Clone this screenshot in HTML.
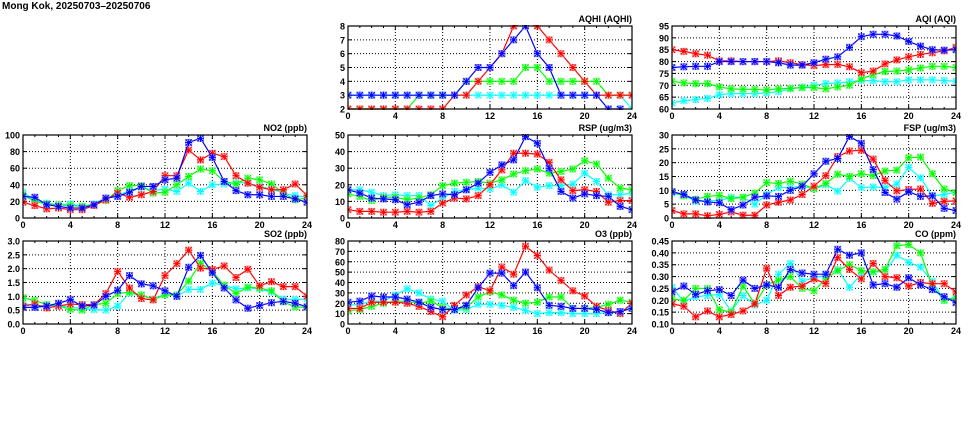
<!DOCTYPE html>
<html><head><meta charset="utf-8"><style>
html,body{margin:0;padding:0;background:#fff;}
svg{display:block;font-family:"Liberation Sans",sans-serif;font-weight:bold;}
</style></head><body>
<svg id="s" width="975" height="447" viewBox="0 0 975 447" xmlns="http://www.w3.org/2000/svg">
<text x="2" y="9" font-size="10">Mong Kok, 20250703–20250706</text>
</svg>
<script>
const S=document.getElementById('s'),NS='http://www.w3.org/2000/svg';
function el(t,a,p){const e=document.createElementNS(NS,t);for(const k in a)e.setAttribute(k,a[k]);(p||S).appendChild(e);return e;}
const cols=[23,348,672],rows=[26,135,241],W=284,H=83;
const C={b:'#0000ff',r:'#ff0000',g:'#00ff00',c:'#00ffff'};
const L={b:'#8080ff',r:'#ff9090',g:'#90ff90',c:'#a0ffff'};
const P=[
{c:1,r:0,t:'AQHI (AQHI)',y0:2,y1:8,st:1,dec:0,d:{
c:[3,3,3,3,3,3,3,3,3,3,3,3,3,3,3,3,3,3,3,3,3,3,3,3,2],
g:[2,2,2,2,2,2,3,3,3,3,4,4,4,4,4,5,5,4,4,4,4,4,3,3,3],
r:[2,2,2,2,2,2,2,2,2,3,3,4,5,6,8,8.3,8,7,6,5,4,3,3,3,3],
b:[3,3,3,3,3,3,3,3,3,3,4,5,5,6,7,8,6,5,3,3,3,3,2,2,1.5]}},
{c:2,r:0,t:'AQI (AQI)',y0:60,y1:95,st:5,dec:0,d:{
c:[62.5,63.5,64,64.5,66,66.5,66.5,66.5,66.8,67.3,68.5,69.3,70,70.7,71,71.5,72,72,71.5,71.5,72.3,72.3,72.3,72,71.7],
g:[71.7,71,70.7,70.7,69.3,68.5,68.3,68.3,68,68.5,68.7,69,69,68.5,69.3,70,72.7,74.5,75.8,76,76.5,77.3,78,78,77.5],
r:[85,84.3,83.3,82.7,80.3,80.3,80,80,80,80.3,79.5,78.7,78.3,78.7,78.8,77.8,75.3,76,79,80.7,82,83,83.7,84.5,86],
b:[77.5,77.8,78,78,80,80,80,80,80,79.5,78.5,78.5,79.5,81,82,86,90.5,91.5,91.5,90.8,88.5,86.5,85,84.8,85]}},
{c:0,r:1,t:'NO2 (ppb)',y0:0,y1:100,st:20,dec:0,d:{
c:[31,21,18,16,17,14,17,24,27,33,37,33,35,32,42,32,40,41,43,42,38,35,30,27,25],
g:[28,20,17,16,15,14,16,21,33,39,39,30,31,40,50,59,57,44,41,48,46,41,30,22,24],
r:[19,15,11,12,10,10,15,22,30,25,28,32,51,51,82,70,78,74,51,42,37,34,34,41,27],
b:[26,25,16,14,12,12,16,24,26,31,38,38,46,48,91,96,73,44,33,28,28,26,26,23,19]}},
{c:1,r:1,t:'RSP (ug/m3)',y0:0,y1:50,st:10,dec:0,d:{
c:[17,17,15.5,13.5,14,13.5,13.5,7.5,12,16,17,18,17.5,20,15.5,22.5,18.5,19.5,19.5,20.5,27,22,14,14,15],
g:[14.5,13,10.5,12.5,12.5,11,12,14,19.5,21,21.5,22,21,23,26.5,28.5,29.5,27,28,29.5,34.5,32.5,24,18,17],
r:[5,4,4,3.5,3.5,4,3.5,4,9,12,11.5,13.5,20,29,39,39,38.5,33.5,23,16.5,17,16,9.5,10.5,10.5],
b:[17,15,12,11.5,11,8,9.5,13.5,14.5,14,17,21,27.5,32,35,49,45,30,16,12,14.5,13.5,13,7,5]}},
{c:2,r:1,t:'FSP (ug/m3)',y0:0,y1:30,st:5,dec:0,d:{
c:[9,8.2,6,6.3,6.3,7.5,7.5,5,8.5,11,11,11.5,10.5,12,9.7,14.3,11,11.2,11,12.3,18.3,14.5,8,8.5,9.3],
g:[9.5,8,6.8,7.8,8.2,7,7.5,9,12.8,12.5,13.3,12.3,10.5,12.5,15.8,15,16,15.3,17,17.3,21.8,22,16,10.5,9.2],
r:[2.7,1.5,1.5,0.8,1.3,2.2,1,1,4.7,5.7,6.5,8.5,11.5,15.3,22.2,24.2,24.5,21.3,13.5,9.8,10.3,10.5,5.3,6,6.2],
b:[9.5,8.5,6.5,5.8,5.5,3,4.7,7.5,8,7.8,10,11.5,16,20.5,21.5,29.5,27,17.5,9.2,6.8,9.5,7.8,8,3.5,2.7]}},
{c:0,r:2,t:'SO2 (ppb)',y0:0,y1:3,st:0.5,dec:1,d:{
c:[.75,.65,.68,.65,.62,.55,.52,.5,.65,1.12,1.05,.9,1.08,1.0,1.25,1.25,1.48,1.4,1.27,1.3,1.27,1.15,.9,.88,.9],
g:[.95,.85,.7,.65,.53,.5,.7,.75,1.1,1.15,1.05,.88,1.05,1.05,1.55,2.2,1.9,1.4,1.1,1.33,1.3,1.2,.8,.62,.6],
r:[.65,.72,.58,.65,.72,.7,.7,1.1,1.9,1.3,.92,.87,1.75,2.18,2.67,2.02,1.97,2.1,1.68,1.98,1.38,1.53,1.35,1.35,1.0],
b:[.6,.6,.65,.75,.88,.65,.68,1.0,1.22,1.75,1.45,1.38,1.2,1.0,2.05,2.48,1.85,1.3,.87,.57,.67,.77,.82,.75,.62]}},
{c:1,r:2,t:'O3 (ppb)',y0:0,y1:80,st:10,dec:0,d:{
c:[18,19,22,22,28,34,30,24,22,13,14,19,19,18,16,13,10,11,11,10,10,10,11,11,17],
g:[13,14,17,20,22,22,20,22,16,14,16,26,31,28,23,20,21,26,26,15,15,16,19,23,21],
r:[15,15,21,21,21,20,17,12,7,18,28,36,32,55,48,75,66,52,42,32,27,17,13,10,20],
b:[21,22,27,26,26,24,21,16,14,14,18,35,49,49,37,50,35,18,17,15,15,14,11,12,15]}},
{c:2,r:2,t:'CO (ppm)',y0:0.10,y1:0.45,st:0.05,dec:2,d:{
c:[.255,.195,.215,.22,.225,.155,.22,.18,.20,.31,.355,.28,.295,.305,.33,.255,.31,.32,.32,.39,.36,.34,.28,.20,.215],
g:[.205,.20,.25,.25,.16,.15,.26,.185,.265,.285,.30,.25,.24,.29,.325,.35,.325,.32,.33,.43,.435,.40,.26,.20,.21],
r:[.185,.175,.13,.155,.13,.14,.155,.185,.335,.22,.255,.26,.29,.27,.38,.33,.29,.355,.30,.295,.26,.275,.27,.27,.235],
b:[.235,.26,.225,.24,.245,.22,.285,.25,.265,.255,.33,.315,.31,.31,.415,.39,.40,.265,.27,.255,.295,.265,.245,.215,.19]}}
];
P.forEach((p,i)=>{
 const X0=cols[p.c],Y0=rows[p.r];
 const fx=h=>X0+h*W/24, fy=v=>Y0+H-(v-p.y0)/(p.y1-p.y0)*H;
 const g=el('g',{});
 el('text',{x:X0+W,y:Y0-4,'font-size':9,'text-anchor':'end'},g).textContent=p.t;
 const n=Math.round((p.y1-p.y0)/p.st);
 for(let k=0;k<=n;k++){const v=p.y0+k*p.st,y=fy(v);
  if(k>0&&k<n)el('line',{x1:X0,x2:X0+W,y1:y,y2:y,stroke:'#000','stroke-width':1,'stroke-dasharray':'1,2'},g);
  el('line',{x1:X0,x2:X0+4,y1:y,y2:y,stroke:'#000'},g);el('line',{x1:X0+W-4,x2:X0+W,y1:y,y2:y,stroke:'#000'},g);
  el('text',{x:X0-3,y:y+3.5,'font-size':9,'text-anchor':'end'},g).textContent=v.toFixed(p.dec);}
 for(let h=0;h<=24;h++){const x=fx(h),m=h%4==0;
  if(m&&h>0&&h<24)el('line',{x1:x,x2:x,y1:Y0,y2:Y0+H,stroke:'#000','stroke-dasharray':'1,2'},g);
  const t=m?4:2;
  el('line',{x1:x,x2:x,y1:Y0+H,y2:Y0+H-t,stroke:'#000'},g);el('line',{x1:x,x2:x,y1:Y0,y2:Y0+t,stroke:'#000'},g);
  if(m)el('text',{x:x,y:Y0+H+10,'font-size':9,'text-anchor':'middle'},g).textContent=h;}
 const cp=el('clipPath',{id:'c'+i},g);el('rect',{x:X0,y:Y0-1,width:W,height:H+2},cp);
 const sg=el('g',{'clip-path':'url(#c'+i+')'},g);
 ['c','g','r','b'].forEach(k=>{
  const pts=p.d[k].map((v,h)=>[fx(h),fy(v)]);
  el('polyline',{points:pts.map(q=>q.join(',')).join(' '),fill:'none',stroke:C[k],'stroke-width':1.2},sg);
  pts.forEach(([x,y])=>{
   el('rect',{x:x-3,y:y-3,width:6,height:6,fill:'none',stroke:L[k],'stroke-width':1},sg);
   el('path',{d:`M${x-3} ${y-3}L${x+3} ${y+3}M${x-3} ${y+3}L${x+3} ${y-3}M${x-3.5} ${y}H${x+3.5}M${x} ${y-3.5}V${y+3.5}`,stroke:C[k],'stroke-width':1},sg);
  });
 });
 el('rect',{x:X0,y:Y0,width:W,height:H,fill:'none',stroke:'#000','stroke-width':1.2},g);
});
</script>
</body></html>
